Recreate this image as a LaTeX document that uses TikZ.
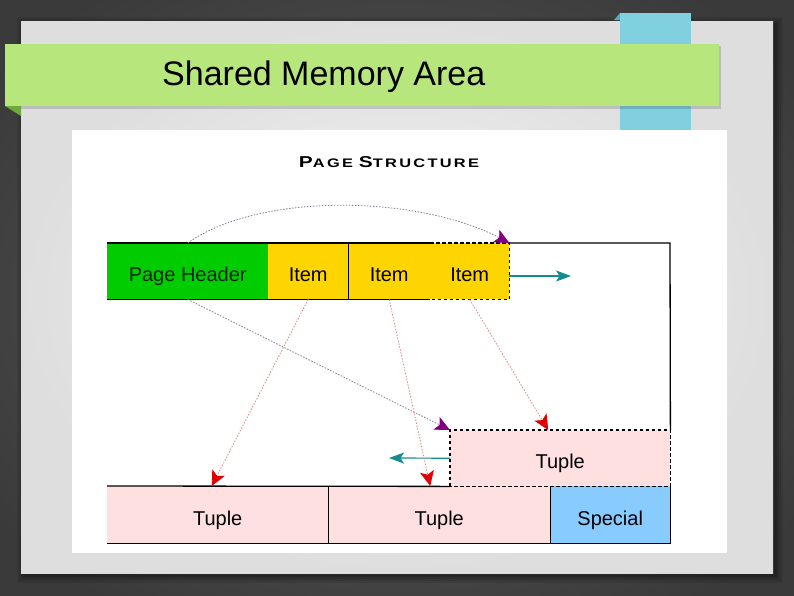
\documentclass[tikz,border=0pt]{standalone}
\usepackage{fontspec}
\setmainfont{Liberation Sans}
\newfontfamily\copfont[LetterSpace=14]{Liberation Sans}
\usetikzlibrary{arrows.meta,calc}
\definecolor{bgdark}{HTML}{3A3A3A}
\definecolor{bgmid}{HTML}{5C5C5C}
\definecolor{paperin}{HTML}{F4F4F4}
\definecolor{paperout}{HTML}{DEDEDE}
\definecolor{band}{HTML}{B7E67D}
\definecolor{bandfold}{HTML}{6FA83C}
\definecolor{ribbon}{HTML}{80D0E0}
\definecolor{ribbonfold}{HTML}{4FA9C0}
\definecolor{hdrgreen}{HTML}{00CC00}
\definecolor{itemyel}{HTML}{FFD500}
\definecolor{tuplepink}{HTML}{FFE0E0}
\definecolor{specblue}{HTML}{88CCFF}
\definecolor{tealc}{HTML}{168C8C}
\definecolor{redtip}{HTML}{E00000}
\definecolor{redline}{HTML}{D88A8A}
\definecolor{purptip}{HTML}{800080}
\definecolor{purpline}{HTML}{8E7A96}
\tikzset{
  cell/.style={inner sep=0pt, anchor=north west, minimum height=56pt,
    text height=21pt, text depth=0pt,
    font=\fontsize{20}{20}\selectfont},
  outline/.style={black, line width=1.3pt},
  dashline/.style={black, line width=1.3pt, dash pattern=on 3.5pt off 2.5pt},
  redarrow/.style={redline, line width=0.8pt, dash pattern=on 1.5pt off 1.5pt,
    -{Stealth[length=15pt,width=14pt,inset=3.5pt,color=redtip]}},
  purparrow/.style={purpline, line width=0.8pt, dash pattern=on 1.5pt off 1.5pt,
    -{Stealth[length=15pt,width=14pt,inset=3.5pt,color=purptip]}},
  tealarrow/.style={tealc, line width=1.2pt,
    -{Stealth[length=15pt,width=11pt,inset=3.5pt]}}
}
\begin{document}
\begin{tikzpicture}[x=1pt,y=-1pt]
\useasboundingbox (0,0) rectangle (794,595);
% background
\fill[bgdark] (0,0) rectangle (794,595);
\shade[inner color=bgmid, outer color=bgdark] (-100,-80) rectangle (894,675);
% paper shadow
\foreach \s/\o in {8/0.08,6/0.1,4/0.12,2/0.15}{
  \fill[black, opacity=\o] (21-\s+4,21-\s+4) rectangle (773+\s+2,573+\s+2);
}
\shade[inner color=paperin, outer color=paperout] (21,21) rectangle (773,573);
% cyan ribbon
\fill[ribbonfold] (614,20) -- (620,13) -- (620,20) -- cycle;
\fill[ribbon] (620,13) rectangle (691,130);
% white panel
\fill[white] (72,130) rectangle (727,553);
% green band
\fill[black, opacity=0.15] (7,46) rectangle (721,109);
\fill[bandfold] (5,106) -- (21,106) -- (21,116) -- cycle;
\fill[band] (5,44) rectangle (719,106);
\node[anchor=base west, inner sep=0pt, font=\fontsize{34}{34}\selectfont] (title) at (162,85) {Shared Memory Area};
% page structure title
\node[inner sep=0pt, anchor=base] (ptitle) at (389,167)
  {\resizebox{180pt}{11pt}{\copfont\bfseries{\fontsize{14}{14}\selectfont P}{\fontsize{11}{11}\selectfont AGE}\hspace{4pt}{\fontsize{14}{14}\selectfont S}{\fontsize{11}{11}\selectfont TRUCTURE}}};
% cells
\node[cell, fill=hdrgreen, minimum width=161pt, text=black!85!green] (hdr) at (107,243) {Page Header};
\node[cell, fill=itemyel, minimum width=80pt] (it1) at (268,243) {Item};
\node[cell, fill=itemyel, minimum width=82pt] (it2) at (348,243) {Item};
\node[cell, fill=itemyel, minimum width=79pt] (it3) at (430,243) {Item};
\node[cell, fill=tuplepink, minimum width=220pt] (tp3) at (450,430) {Tuple};
\node[cell, fill=tuplepink, minimum width=221pt, minimum height=57pt] (tp1) at (107,486) {Tuple};
\node[cell, fill=tuplepink, minimum width=222pt, minimum height=57pt] (tp2) at (328,486) {Tuple};
\node[cell, fill=specblue, minimum width=120pt, minimum height=57pt] (sp) at (550,486) {Special};
\coordinate (pgNE) at (670,243);
% outlines
\draw[outline] (hdr.north west) -- (it3.north west);
\draw[outline] (hdr.south west) -- (it3.south west);
\draw[outline] (it1.north east) -- (it1.south east);
\draw[dashline] (it3.north west) -- (it3.north east) -- (it3.south east) -- (it3.south west);
\draw[outline] (it3.north east) -- (pgNE) -- (tp3.north east);
\draw[dashline] (tp3.south west) -- (tp3.north west) -- (tp3.north east) -- (tp3.south east) -- cycle;
\draw[outline] (tp1.north west) -- (tp3.south west);
\draw[outline] (tp3.south east) -- (sp.south east) -- (tp1.south west);
\draw[outline] (tp1.north east) -- (tp1.south east);
\draw[outline] (tp2.north east) -- (tp2.south east);
% arrows
\coordinate (teal1) at (571,276);
\coordinate (teal2) at (389,458);
\draw[tealarrow] (it3.east |- teal1) -- (teal1);
\draw[tealarrow] (tp3.west) -- (teal2);
\draw[purparrow] (hdr.north) .. controls (262,191) and (420,196) .. (it3.north east);
\draw[purparrow] (hdr.south) -- (tp3.north west);
\draw[redarrow] (it1.south) -- ([xshift=-6pt]tp1.north);
\draw[redarrow] (it2.south) -- ([xshift=-9pt]tp2.north);
\draw[redarrow] (it3.south) -- ([xshift=-12pt]tp3.north);
\end{tikzpicture}
\end{document}
